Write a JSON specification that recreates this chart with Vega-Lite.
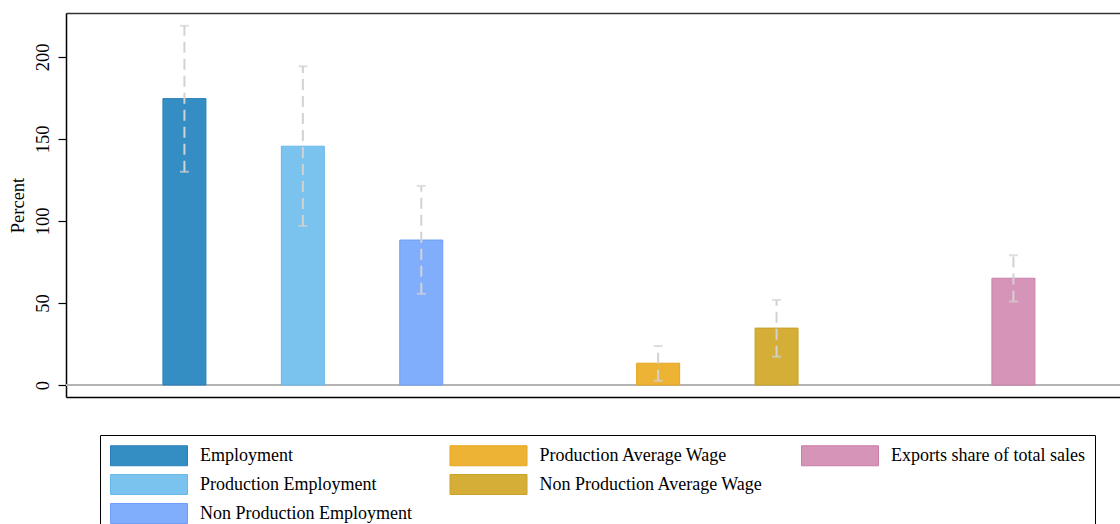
{
  "$schema": "https://vega.github.io/schema/vega-lite/v6.json",
  "width": 1054,
  "height": 384,
  "autosize": {"type": "none"},
  "padding": {"left": 66, "top": 13, "right": 0, "bottom": 127},
  "background": "white",
  "config": {"view": {"stroke": null}, "font": "Liberation Serif"},
  "data": {
    "values": [
      {"series": "Employment", "pos": 1, "value": 174.6, "lo": 130.0, "hi": 219.0},
      {"series": "Production Employment", "pos": 2, "value": 145.6, "lo": 97.0, "hi": 194.3},
      {"series": "Non Production Employment", "pos": 3, "value": 88.4, "lo": 55.6, "hi": 121.4},
      {"series": "Production Average Wage", "pos": 5, "value": 13.3, "lo": 2.6, "hi": 23.8},
      {"series": "Non Production Average Wage", "pos": 6, "value": 34.7, "lo": 17.3, "hi": 51.9},
      {"series": "Exports share of total sales", "pos": 8, "value": 65.1, "lo": 50.9, "hi": 79.1}
    ]
  },
  "layer": [
    {
      "mark": {"type": "rule", "color": "#b4b4b4", "strokeWidth": 1.5},
      "encoding": {
        "y": {"datum": 0, "type": "quantitative", "scale": {"domain": [-7.3, 226.8], "nice": false, "zero": false, "padding": 0}}
      }
    },
    {
      "mark": {"type": "bar", "size": 43, "strokeWidth": 1, "orient": "vertical"},
      "encoding": {
        "x": {
          "field": "pos", "type": "quantitative",
          "scale": {"domain": [0, 8.9], "nice": false, "zero": false, "padding": 0},
          "axis": {"orient": "bottom", "domain": true, "domainColor": "#000000", "domainWidth": 1.5, "ticks": false, "labels": false, "grid": false, "title": null}
        },
        "y": {
          "field": "value", "type": "quantitative", "stack": null,
          "scale": {"domain": [-7.3, 226.8], "nice": false, "zero": false, "padding": 0},
          "axis": {
            "title": "Percent", "values": [0, 50, 100, 150, 200], "grid": false,
            "domainColor": "#000000", "domainWidth": 1.5,
            "tickColor": "#000000", "tickSize": 8, "tickWidth": 1.2,
            "labelAngle": -90, "labelAlign": "center", "labelBaseline": "alphabetic",
            "labelPadding": 10, "labelFont": "Liberation Serif", "labelFontSize": 18.5, "labelColor": "#000000",
            "titleFont": "Liberation Serif", "titleFontSize": 18.5, "titleFontWeight": "normal", "titleColor": "#000000", "titlePadding": 6
          }
        },
        "fill": {
          "field": "series", "type": "nominal",
          "scale": {
            "domain": ["Employment", "Production Employment", "Non Production Employment", "Production Average Wage", "Non Production Average Wage", " ", "Exports share of total sales", "  ", "   "],
            "range": ["#348ec4", "#79c3ee", "#80aefd", "#edb335", "#d4ae37", "#ffffff", "#d694b8", "#ffffff", "#ffffff"]
          },
          "legend": {
            "orient": "none", "legendX": 34, "legendY": 422, "columns": 3, "title": null,
            "columnPadding": 35.5, "rowPadding": 4, "labelOffset": 69, "padding": 10,
            "strokeColor": "#000000", "fillColor": "#ffffff",
            "symbolType": "M-1,-1H6.7V1H-1Z", "symbolSize": 400, "symbolStrokeWidth": 1,
            "labelFont": "Liberation Serif", "labelFontSize": 18, "labelLimit": 400, "labelColor": "#000000"
          }
        },
        "stroke": {
          "field": "series", "type": "nominal",
          "scale": {
            "domain": ["Employment", "Production Employment", "Non Production Employment", "Production Average Wage", "Non Production Average Wage", " ", "Exports share of total sales", "  ", "   "],
            "range": ["#2b7fb8", "#6ab8e8", "#6e9ff5", "#e6a41f", "#c9a22a", "#ffffff", "#cb7eaa", "#ffffff", "#ffffff"]
          },
          "legend": {
            "orient": "none", "legendX": 34, "legendY": 422, "columns": 3, "title": null,
            "columnPadding": 35.5, "rowPadding": 4, "labelOffset": 69, "padding": 10,
            "strokeColor": "#000000", "fillColor": "#ffffff",
            "symbolType": "M-1,-1H6.7V1H-1Z", "symbolSize": 400, "symbolStrokeWidth": 1,
            "labelFont": "Liberation Serif", "labelFontSize": 18, "labelLimit": 400, "labelColor": "#000000"
          }
        }
      }
    },
    {
      "mark": {"type": "rule", "color": "#d2d2d2", "strokeWidth": 2, "strokeDash": [11, 6]},
      "encoding": {
        "x": {
          "field": "pos", "type": "quantitative",
          "axis": {"orient": "top", "domain": true, "domainColor": "#333333", "domainWidth": 1.5, "ticks": false, "labels": false, "grid": false, "title": null}
        },
        "y": {"field": "lo", "type": "quantitative"},
        "y2": {"field": "hi"}
      }
    },
    {
      "mark": {"type": "tick", "orient": "horizontal", "color": "#d2d2d2", "size": 9, "thickness": 2},
      "encoding": {
        "x": {"field": "pos", "type": "quantitative", "axis": null},
        "y": {"field": "lo", "type": "quantitative"}
      }
    },
    {
      "mark": {"type": "tick", "orient": "horizontal", "color": "#d2d2d2", "size": 9, "thickness": 2},
      "encoding": {
        "x": {"field": "pos", "type": "quantitative", "axis": null},
        "y": {"field": "hi", "type": "quantitative"}
      }
    }
  ],
  "resolve": {"axis": {"x": "independent"}}
}
